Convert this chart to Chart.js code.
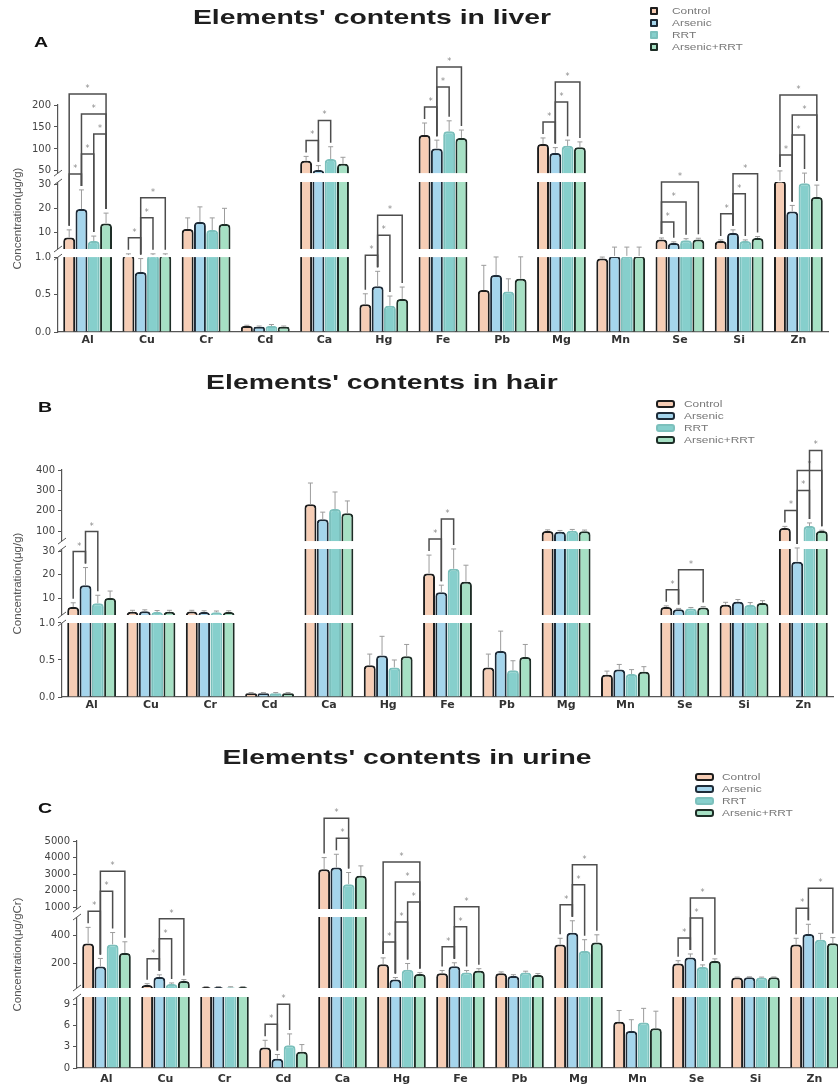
<!DOCTYPE html>
<html><head><meta charset="utf-8">
<script src="https://cdn.jsdelivr.net/npm/chart.js@4.4.1/dist/chart.umd.min.js"></script>
<style>
html,body{margin:0;padding:0;background:#fff;}
body{width:838px;height:1090px;overflow:hidden;position:relative;}
canvas{position:absolute;left:0;}
.ttl{position:absolute;width:600px;text-align:center;font-family:"Liberation Sans",Arial,sans-serif;font-weight:bold;font-size:21px;line-height:24px;color:#1e1e1e;transform:scaleX(1.35);white-space:nowrap;}
.let{position:absolute;font-family:"Liberation Sans",Arial,sans-serif;font-weight:bold;font-size:15px;line-height:16px;color:#111;transform:scaleX(1.3);transform-origin:left center;}
.lg{position:absolute;height:10px;width:140px;}
.lg .bx{position:absolute;top:1px;box-sizing:border-box;height:8px;}
.lg .tx{position:absolute;top:-1px;font-family:"Liberation Sans",Arial,sans-serif;font-size:8.5px;line-height:12px;color:#777;transform:scaleX(1.4);transform-origin:left center;white-space:nowrap;}
</style></head><body>
<canvas id="cA" width="838" height="360" style="top:0px"></canvas>
<canvas id="cB" width="838" height="360" style="top:360px"></canvas>
<canvas id="cC" width="850" height="370" style="top:720px"></canvas>
<script>
// ---------- data ----------
const categories = ['Al','Cu','Cr','Cd','Ca','Hg','Fe','Pb','Mg','Mn','Se','Si','Zn'];
const groups = ['Control','Arsenic','RRT','Arsenic+RRT'];

// Liver (µg/g)
const liverControl = [7.8, 1.5, 11.4, 0.08, 73, 0.37, 132, 0.56, 111, 0.98, 7, 6.3, 33];
const liverArsenic = [19.7, 0.8, 14.3, 0.07, 52, 0.61, 101, 0.76, 91, 1.3, 5.5, 9.7, 18.7];
const liverRRT = [6.3, 1.5, 10.9, 0.08, 77, 0.35, 140, 0.54, 107, 1.3, 6.7, 6.3, 30.5];
const liverArsenicRRT = [13.7, 1.5, 13.4, 0.07, 66, 0.44, 125, 0.71, 104, 1.3, 7, 7.6, 24.7];
const liverControlErr = [3.2, 0.3, 4.6, 0.01, 10, 0.14, 27, 0.33, 14, 0.03, 0.6, 0.5, 17];
const liverArsenicErr = [8, 0.18, 6.3, 0.01, 10, 0.2, 19, 0.27, 12, 2.5, 0.5, 1.3, 2.5];
const liverRRTErr = [2.1, 0.3, 5.1, 0.02, 28, 0.13, 24, 0.17, 13, 2.5, 0.6, 0.5, 14.5];
const liverArsenicRRTErr = [4.3, 0.3, 6.6, 0.01, 15, 0.16, 18, 0.35, 12, 2.5, 0.5, 0.6, 5];
const liverTicks = [0, 0.5, 1, 10, 20, 30, 50, 100, 150, 200];
const liverTickLabels = ['0.0','0.5','1.0','10','20','30','50','100','150','200'];
// significance brackets: [category index, group a, group b]
const liverBrackets = [[0,0,1],[0,1,2],[0,2,3],[0,1,3],[0,0,3],[1,0,1],[1,1,2],[1,1,3],[4,0,1],[4,1,2],
  [5,0,1],[5,1,2],[5,1,3],[6,0,1],[6,1,2],[6,1,3],[8,0,1],[8,1,2],[8,1,3],[10,0,1],[10,0,2],[10,0,3],
  [11,0,1],[11,1,2],[11,1,3],[12,0,1],[12,1,2],[12,1,3],[12,0,3]];

// Hair (µg/g)
const hairControl = [6.2, 4.2, 4.3, 0.05, 232, 0.43, 20.5, 0.40, 100, 0.30, 6.2, 7.2, 115];
const hairArsenic = [15.5, 4.4, 4.1, 0.05, 158, 0.56, 12.5, 0.62, 97, 0.37, 5.2, 8.4, 25.5];
const hairRRT = [7.8, 4.1, 4.0, 0.05, 208, 0.40, 22.5, 0.36, 102, 0.31, 5.6, 7.1, 125];
const hairArsenicRRT = [10, 4.2, 4.1, 0.05, 188, 0.55, 17, 0.54, 99, 0.34, 6, 7.9, 100];
const hairControlErr = [1.8, 0.6, 0.5, 0.01, 104, 0.15, 7.8, 0.18, 6, 0.05, 0.5, 1, 8];
const hairArsenicErr = [7.5, 0.6, 0.5, 0.01, 35, 0.26, 3, 0.27, 6, 0.07, 0.4, 1, 8];
const hairRRTErr = [3.4, 0.6, 0.5, 0.01, 84, 0.10, 8.5, 0.13, 6, 0.06, 0.4, 1, 15];
const hairArsenicRRTErr = [3, 0.6, 0.5, 0.01, 60, 0.16, 7, 0.17, 6, 0.07, 0.4, 1, 4];
const hairTicks = [0, 0.5, 1, 10, 20, 30, 100, 200, 300, 400];
const hairTickLabels = ['0.0','0.5','1.0','10','20','30','100','200','300','400'];
const hairBrackets = [[0,0,1],[0,1,2],[6,0,1],[6,1,2],[10,0,1],[10,1,3],[12,0,1],[12,1,2],[12,1,3],[12,2,3]];

// Urine (µg/gCr)
const urineControl = [343, 46, 32, 2.9, 3300, 195, 130, 130, 335, 6.5, 200, 100, 335];
const urineArsenic = [178, 104, 32, 1.3, 3400, 85, 180, 110, 420, 5.2, 243, 102, 410];
const urineRRT = [336, 53, 31, 3.2, 2400, 155, 135, 135, 290, 6.4, 175, 100, 370];
const urineArsenicRRT = [275, 75, 32, 2.3, 2900, 125, 148, 118, 350, 5.6, 218, 101, 345];
const urineControlErr = [115, 10, 3, 1, 700, 45, 20, 10, 45, 1.6, 20, 3, 45];
const urineArsenicErr = [58, 15, 3, 0.6, 800, 15, 25, 10, 85, 1.6, 25, 3, 70];
const urineRRTErr = [85, 8, 3, 1.6, 700, 45, 15, 10, 80, 2, 15, 3, 45];
const urineArsenicRRTErr = [80, 10, 3, 1, 600, 10, 15, 10, 55, 2.4, 15, 3, 40];
const urineTicks = [0, 3, 6, 9, 200, 400, 1000, 2000, 3000, 4000, 5000];
const urineTickLabels = ['0','3','6','9','200','400','1000','2000','3000','4000','5000'];
const urineBrackets = [[0,0,1],[0,1,2],[0,1,3],[1,0,1],[1,1,2],[1,1,3],[3,0,1],[3,1,2],[4,1,2],[4,0,2],
  [5,0,1],[5,1,2],[5,2,3],[5,1,3],[5,0,3],[6,0,1],[6,1,2],[6,1,3],[8,0,1],[8,1,2],[8,1,3],
  [10,0,1],[10,1,2],[10,1,3],[12,0,1],[12,1,3]];

// ---------- style ----------
const fills = ['#f6cdb5','#a5d5ec','#86cfcc','#a6e0c4'];
const strokes = ['#1d1d1d','#1d2b38','#7cc0bc','#1d2d26'];

// broken-axis segments (value range -> fraction of axis height)
const PANELS = {
  cA: { values:[liverControl,liverArsenic,liverRRT,liverArsenicRRT],
        errors:[liverControlErr,liverArsenicErr,liverRRTErr,liverArsenicRRTErr],
        ticks: liverTicks, labels: liverTickLabels, brackets: liverBrackets,
        segments:[{lo:0,hi:1,fb:0,ft:0.330},{lo:3,hi:31,fb:0.3656,ft:0.6608},{lo:45,hi:200,fb:0.700,ft:1}] },
  cB: { values:[hairControl,hairArsenic,hairRRT,hairArsenicRRT],
        errors:[hairControlErr,hairArsenicErr,hairRRTErr,hairArsenicRRTErr],
        ticks: hairTicks, labels: hairTickLabels, brackets: hairBrackets,
        segments:[{lo:0,hi:1,fb:0,ft:0.326},{lo:2.8,hi:30.9,fb:0.3612,ft:0.652},{lo:51,hi:400,fb:0.687,ft:1}] },
  cC: { values:[urineControl,urineArsenic,urineRRT,urineArsenicRRT],
        errors:[urineControlErr,urineArsenicErr,urineRRTErr,urineArsenicRRTErr],
        ticks: urineTicks, labels: urineTickLabels, brackets: urineBrackets,
        segments:[{lo:0,hi:10,fb:0,ft:0.3128},{lo:25,hi:532,fb:0.3524,ft:0.6652},{lo:900,hi:5000,fb:0.7004,ft:1}] }
};

function fracFor(segs, v) {
  for (let i = 0; i < segs.length; i++) {
    const s = segs[i];
    if (v <= s.hi || i === segs.length - 1) {
      if (v >= s.lo || i === 0) return s.fb + (v - s.lo) / (s.hi - s.lo) * (s.ft - s.fb);
      const p = segs[i - 1];
      return p.ft + (v - p.hi) / (s.lo - p.hi) * (s.fb - p.ft);
    }
  }
  return 0;
}

class BrokenScale extends Chart.LinearScale {
  _cfg() { return PANELS[this.chart.canvas.id]; }
  getPixelForValue(v) {
    if (v === null || v === undefined || isNaN(v)) return NaN;
    return this.bottom - fracFor(this._cfg().segments, v) * (this.bottom - this.top);
  }
  getValueForPixel(px) {
    const f = (this.bottom - px) / (this.bottom - this.top);
    const segs = this._cfg().segments;
    let lo = 0, hi = segs[segs.length - 1].hi * 2;
    for (let k = 0; k < 60; k++) { const m = (lo + hi) / 2; if (fracFor(segs, m) < f) lo = m; else hi = m; }
    return (lo + hi) / 2;
  }
  buildTicks() { return this._cfg().ticks.map(v => ({ value: v })); }
}
BrokenScale.id = 'broken';
BrokenScale.defaults = Chart.LinearScale.defaults;
Chart.register(BrokenScale);

const overlayPlugin = {
  id: 'overlay',
  afterDatasetsDraw(chart) {
    const P = PANELS[chart.canvas.id];
    const ctx = chart.ctx, ys = chart.scales.y, ca = chart.chartArea;
    const H = ys.bottom - ys.top;
    ctx.save();
    // white break stripes
    const gaps = [];
    for (let i = 1; i < P.segments.length; i++) {
      const yb = ys.bottom - P.segments[i - 1].ft * H;
      const yt = ys.bottom - P.segments[i].fb * H;
      gaps.push([yt, yb]);
      ctx.fillStyle = '#ffffff';
      ctx.fillRect(ca.left - 1, yt, ca.right - ca.left + 4, yb - yt);
    }
    // error bars
    ctx.strokeStyle = '#9c9c9c'; ctx.lineWidth = 1;
    P.values.forEach((arr, d) => {
      const meta = chart.getDatasetMeta(d);
      arr.forEach((v, i) => {
        const bar = meta.data[i];
        const y0 = ys.getPixelForValue(v), y1 = ys.getPixelForValue(v + P.errors[d][i]);
        ctx.beginPath();
        ctx.moveTo(bar.x, y0); ctx.lineTo(bar.x, y1);
        ctx.moveTo(bar.x - 2.5, y1); ctx.lineTo(bar.x + 2.5, y1);
        ctx.stroke();
      });
    });
    // significance brackets
    const placed = {};
    P.brackets.forEach(([c, a, b]) => {
      const top = k => ys.getPixelForValue(P.values[k][c] + P.errors[k][c]);
      let m = Infinity;
      for (let k = a; k <= b; k++) m = Math.min(m, top(k));
      let yy = m - 16;
      (placed[c] || []).forEach(py => { yy = Math.min(yy, py - 20); });
      (placed[c] = placed[c] || []).push(yy);
      const xa = chart.getDatasetMeta(a).data[c].x, xb = chart.getDatasetMeta(b).data[c].x;
      ctx.strokeStyle = '#4d4d4d'; ctx.lineWidth = 1.5;
      ctx.beginPath();
      ctx.moveTo(xa, top(a) - 4); ctx.lineTo(xa, yy); ctx.lineTo(xb, yy); ctx.lineTo(xb, top(b) - 4);
      ctx.stroke();
      ctx.fillStyle = '#8a8a8a'; ctx.font = '8px "DejaVu Sans"'; ctx.textAlign = 'center';
      ctx.fillText('*', (xa + xb) / 2, yy - 3);
    });
    // axis break marks
    ctx.strokeStyle = '#555'; ctx.lineWidth = 1;
    gaps.forEach(([yt, yb]) => {
      [yt, yb].forEach(e => {
        ctx.beginPath(); ctx.moveTo(ca.left - 4, e + 3); ctx.lineTo(ca.left + 4, e - 3); ctx.stroke();
      });
    });
    ctx.restore();
  }
};

function makeChart(id, yTitle, pad, yWidth, xPad) {
  const P = PANELS[id];
  const maxV = P.ticks[P.ticks.length - 1];
  return new Chart(document.getElementById(id), {
    type: 'bar',
    data: {
      labels: categories,
      datasets: groups.map((g, d) => ({
        label: g, data: P.values[d],
        backgroundColor: fills[d], borderColor: strokes[d], borderWidth: 2,
        borderRadius: 4, borderSkipped: 'start',
        categoryPercentage: 0.83, barPercentage: 0.97
      }))
    },
    options: {
      responsive: false, animation: false, devicePixelRatio: 1,
      layout: { padding: { top: pad.top, bottom: pad.bottom, left: 0, right: pad.right } },
      plugins: { legend: { display: false }, tooltip: { enabled: false }, title: { display: false } },
      scales: {
        x: {
          type: 'category',
          grid: { display: false, drawTicks: false },
          border: { display: true, color: '#555', width: 1.2 },
          ticks: { color: '#333', font: { family: 'DejaVu Sans', weight: 'bold', size: 11 }, padding: xPad, maxRotation: 0, autoSkip: false },
          afterFit: s => { s.height = 20; }
        },
        y: {
          type: 'broken', min: 0, max: maxV,
          grid: { drawOnChartArea: false, drawTicks: true, tickLength: 4, color: '#555', lineWidth: 1 },
          border: { display: true, color: '#555', width: 1.2 },
          ticks: { autoSkip: false, padding: 3, color: '#444', font: { family: 'DejaVu Sans', size: 10 },
                   callback: (v, i) => P.labels[i] },
          title: { display: true, text: yTitle, color: '#555', font: { family: 'Liberation Sans', size: 11.5 }, padding: { top: 11, bottom: 0 } },
          afterFit: s => { s.width = yWidth; }
        }
      }
    },
    plugins: [overlayPlugin]
  });
}

makeChart('cA', 'Concentration(\u03bcg/g)', { top: 105, bottom: 8, right: 10 }, 58, 2);
makeChart('cB', 'Concentration(\u03bcg/g)', { top: 110, bottom: 3, right: 5 }, 62, 2);
makeChart('cC', 'Concentration(\u03bcg/gCr)', { top: 121, bottom: 2, right: 6 }, 77, 5);

// ---------- titles, panel letters, legends (HTML text) ----------
function addDiv(cls, text, css) {
  const d = document.createElement('div'); d.className = cls; d.textContent = text;
  Object.assign(d.style, css); document.body.appendChild(d); return d;
}
addDiv('ttl', "Elements' contents in liver", { left: (372 - 300) + 'px', top: '5px' });
addDiv('ttl', "Elements' contents in hair", { left: (382 - 300) + 'px', top: '370px' });
addDiv('ttl', "Elements' contents in urine", { left: (407 - 300) + 'px', top: '745px' });
addDiv('let', 'A', { left: '34px', top: '34px' });
addDiv('let', 'B', { left: '38px', top: '399px' });
addDiv('let', 'C', { left: '38px', top: '800px' });

function legend(boxX, textX, rows, boxW, radius) {
  groups.forEach((g, d) => {
    const row = document.createElement('div'); row.className = 'lg';
    row.style.left = boxX + 'px'; row.style.top = (rows[d] - 5) + 'px';
    const bx = document.createElement('span'); bx.className = 'bx';
    Object.assign(bx.style, { left: '0px', width: boxW + 'px', background: fills[d],
      border: '2px solid ' + strokes[d], borderRadius: radius + 'px' });
    const tx = document.createElement('span'); tx.className = 'tx'; tx.textContent = g;
    tx.style.left = (textX - boxX) + 'px';
    row.appendChild(bx); row.appendChild(tx); document.body.appendChild(row);
  });
}
legend(650, 672, [11, 23, 35, 47], 8, 1);
legend(656, 684, [404, 416, 428, 440], 19, 3);
legend(695, 722, [777, 789, 801, 813], 19, 3);
</script>
</body></html>
